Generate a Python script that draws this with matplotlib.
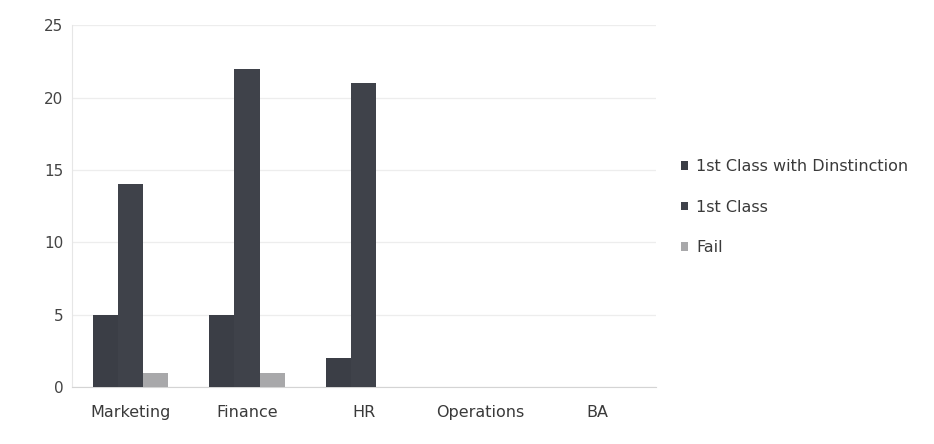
import matplotlib
matplotlib.use("Agg")
import matplotlib.pyplot as plt
import numpy as np

plt.rcParams['font.family'] = ['DejaVu Sans']

departments = ["Marketing", "Finance", "HR", "Operations", "BA"]
distinction = [5, 5, 2, 0, 0]
first_class = [14, 22, 21, 0, 0]
fail = [1, 1, 0, 0, 0]
series_labels = ["1st Class with Dinstinction", "1st Class", "Fail"]
y_ticks = [0, 5, 10, 15, 20, 25]

colors = ["#3b3e46", "#3f424a", "#a8a8aa"]

fig = plt.figure(figsize=(9.34, 4.44), dpi=100)
ax = fig.add_axes([0.077, 0.1284, 0.625, 0.815])

x = np.arange(len(departments))
w = 0.215
for i, (vals, lab, col) in enumerate(zip([distinction, first_class, fail], series_labels, colors)):
    ax.bar(x + (i - 1) * w, vals, width=w, color=col, label=lab, zorder=3)

ax.set_xlim(-0.5, len(departments) - 0.5)
ax.set_ylim(0, 25)
ax.set_yticks(y_ticks)
ax.set_xticks(x)
ax.set_xticklabels(departments, fontsize=11.5, color="#3a3a3a")
ax.tick_params(axis="y", labelsize=11, colors="#444444", length=0, pad=6)
ax.tick_params(axis="x", length=0, pad=13)
ax.yaxis.grid(True, color="#ededed", linewidth=0.9, zorder=0)
for s in ["top", "right"]:
    ax.spines[s].set_visible(False)
ax.spines["left"].set_color("#e6e6e6")
ax.spines["bottom"].set_color("#d4d4d4")

fig.legend(loc="upper left", bbox_to_anchor=(0.714, 0.674), frameon=False,
           fontsize=11.5, handlelength=0.45, handleheight=0.45, handletextpad=0.5,
           labelspacing=1.6, labelcolor="#3a3a3a")

fig.savefig("out.png", dpi=100)
